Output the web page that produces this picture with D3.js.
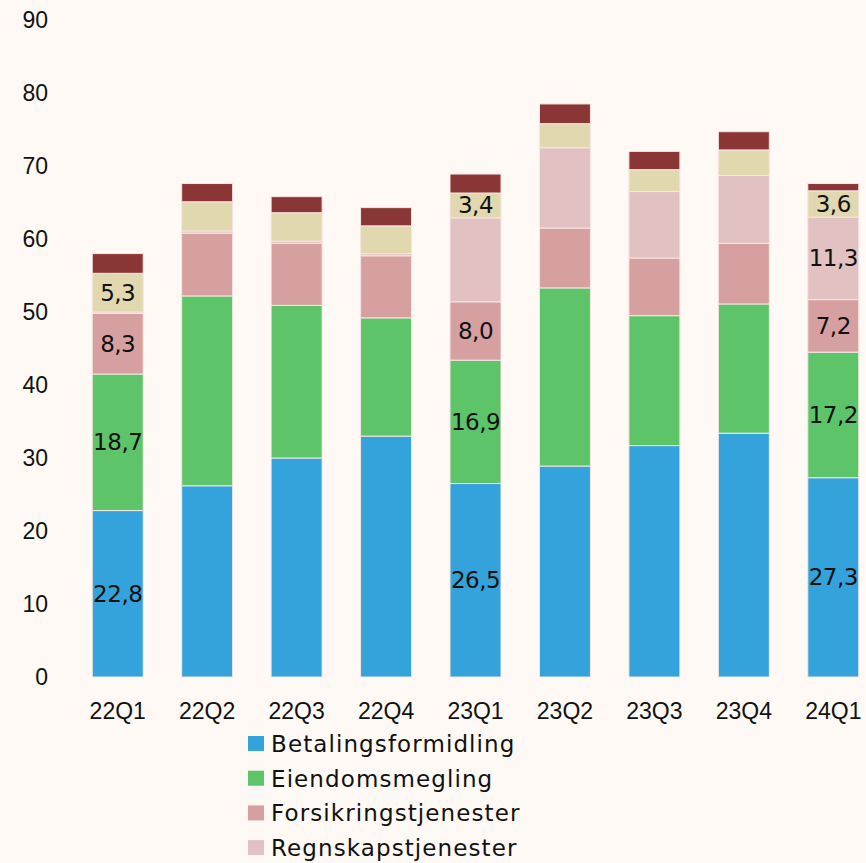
<!DOCTYPE html>
<html lang="no">
<head>
    <meta charset="UTF-8">
    <title>Provisjonsinntekter</title>
    <script src="https://d3js.org/d3.v7.min.js"></script>
    <style>
        body {
            margin: 0;
            background-color: #fef9f5;
            font-family: 'DejaVu Sans', sans-serif;
        }
        .tick-label {
            font-size: 23px;
            fill: #111;
        }
        .seg-label {
            font-size: 23px;
            letter-spacing: -0.5px;
            fill: #111;
            text-anchor: middle;
            dominant-baseline: central;
        }
        .legend-text {
            font-size: 23px;
            letter-spacing: 1.1px;
            fill: #111;
        }
    </style>
</head>
<body>
    <svg id="chart" width="866" height="863"></svg>
    <script>
        // Chart dimensions
        const width = 866;
        const height = 863;

        // Data
        const quarters = ["22Q1", "22Q2", "22Q3", "22Q4", "23Q1", "23Q2", "23Q3", "23Q4", "24Q1"];
        const seriesNames = ["Betalingsformidling", "Eiendomsmegling", "Forsikringstjenester", "Regnskapstjenester", "Verdipapirtjenester", "Øvrige"];
        const seriesColors = ["#34a3db", "#5ec469", "#d7a0a0", "#e2c1c3", "#e1d8b0", "#8b3636"];

        const betaling = [22.8, 26.2, 30.0, 33.0, 26.5, 28.9, 31.7, 33.4, 27.3];
        const eiendom = [18.7, 26.0, 20.9, 16.2, 16.9, 24.4, 17.8, 17.7, 17.2];
        const forsikring = [8.3, 8.6, 8.5, 8.5, 8.0, 8.2, 7.9, 8.3, 7.2];
        const regnskap = [0.2, 0.3, 0.3, 0.3, 11.5, 11.0, 9.1, 9.3, 11.3];
        const verdipapir = [5.3, 4.0, 3.9, 3.8, 3.4, 3.3, 3.0, 3.5, 3.6];
        const ovrige = [2.7, 2.5, 2.2, 2.5, 2.6, 2.7, 2.5, 2.5, 1.0];

        // Which quarters carry a value label, per series
        const labelled = [
            ["22Q1", "23Q1", "24Q1"],
            ["22Q1", "23Q1", "24Q1"],
            ["22Q1", "23Q1", "24Q1"],
            ["24Q1"],
            ["22Q1", "23Q1", "24Q1"],
            []
        ];

        const yTicks = [0, 10, 20, 30, 40, 50, 60, 70, 80, 90];
        const legendShown = 4;

        const values = [betaling, eiendom, forsikring, regnskap, verdipapir, ovrige];

        // Build table for d3.stack
        const table = quarters.map((q, i) => {
            const row = { quarter: q };
            seriesNames.forEach((s, k) => { row[s] = values[k][i]; });
            return row;
        });

        const stacked = d3.stack().keys(seriesNames)(table);

        const svg = d3.select("#chart");

        const x = d3.scaleBand()
            .domain(quarters)
            .range([73, 878])
            .paddingInner(0.43)
            .paddingOuter(0.215);

        const y = d3.scaleLinear()
            .domain([0, 90])
            .range([677, 20]);

        const fmt = v => d3.format(".1f")(v).replace(".", ",");

        // Bars
        const layers = svg.append("g")
            .selectAll("g")
            .data(stacked)
            .enter().append("g")
            .attr("fill", (d, k) => seriesColors[k]);

        layers.selectAll("rect")
            .data(d => d)
            .enter().append("rect")
            .attr("x", d => x(d.data.quarter))
            .attr("width", x.bandwidth())
            .attr("y", d => y(d[1]))
            .attr("height", d => y(d[0]) - y(d[1]))
            .attr("stroke", "#f6e6e4")
            .attr("stroke-width", 1);

        // Segment labels
        stacked.forEach((layer, k) => {
            svg.append("g")
                .selectAll("text")
                .data(layer.filter(d => labelled[k].includes(d.data.quarter)))
                .enter().append("text")
                .attr("class", "seg-label")
                .attr("x", d => x(d.data.quarter) + x.bandwidth() / 2)
                .attr("y", d => y((d[0] + d[1]) / 2))
                .text(d => fmt(d[1] - d[0]));
        });

        // Y axis (labels only)
        const yAxis = svg.append("g")
            .attr("transform", "translate(48,0)")
            .call(d3.axisLeft(y).tickValues(yTicks).tickSize(0).tickPadding(0));
        yAxis.select(".domain").remove();
        yAxis.selectAll("text")
            .attr("class", "tick-label")
            .attr("font-family", null)
            .attr("font-size", null);

        // X axis (labels only)
        const xAxis = svg.append("g")
            .attr("transform", "translate(0,703)")
            .call(d3.axisBottom(x).tickSize(0).tickPadding(0));
        xAxis.select(".domain").remove();
        xAxis.selectAll("text")
            .attr("class", "tick-label")
            .attr("font-family", null)
            .attr("font-size", null);

        // Legend
        const legend = svg.append("g")
            .attr("transform", "translate(248,744)");

        const items = legend.selectAll("g")
            .data(seriesNames.slice(0, legendShown))
            .enter().append("g")
            .attr("transform", (d, i) => `translate(0,${i * 34.7})`);

        items.append("rect")
            .attr("x", 0)
            .attr("y", -8)
            .attr("width", 16)
            .attr("height", 15)
            .attr("fill", (d, i) => seriesColors[i]);

        items.append("text")
            .attr("class", "legend-text")
            .attr("x", 23)
            .attr("y", 0)
            .attr("dominant-baseline", "central")
            .text(d => d);
    </script>
</body>
</html>
